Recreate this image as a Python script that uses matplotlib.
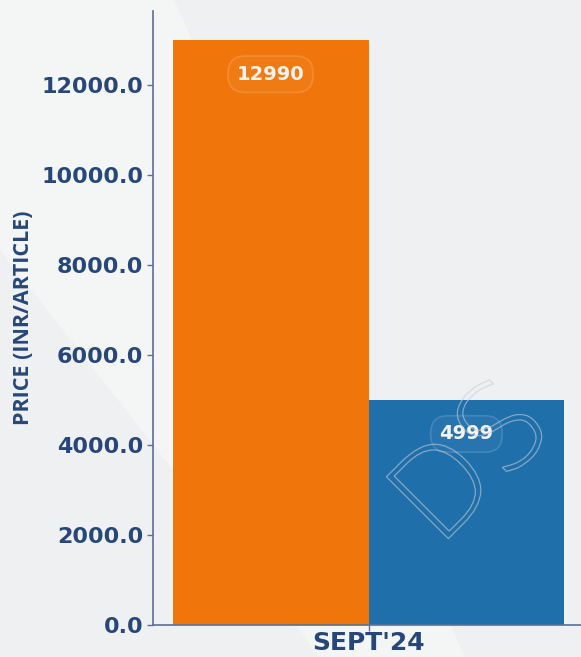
import matplotlib.pyplot as plt
from matplotlib.textpath import TextPath
from matplotlib.patches import PathPatch, Polygon
from matplotlib.font_manager import FontProperties
import matplotlib.transforms as mtransforms

# data
period = ["SEPT'24"]
series_names = ["Brand A", "Brand B"]
prices = [12990, 4999]
bar_colors = ["#f0760c", "#1f6fab"]
yticks = [0, 2000, 4000, 6000, 8000, 10000, 12000]

navy = "#27477a"

fig = plt.figure(figsize=(5.81, 6.57), dpi=100)
fig.patch.set_facecolor("#eff0f1")

# background layer with a lighter diagonal band
bgax = fig.add_axes([0, 0, 1, 1], zorder=-5)
bgax.set_xlim(0, 1)
bgax.set_ylim(0, 1)
bgax.axis("off")
bgax.add_patch(Polygon([(0, 1), (0.0, 0.62), (0.55, 0.0), (0.8, 0.0), (0.3, 1)],
                       closed=True, facecolor="#f4f5f5", edgecolor="none"))

ax = fig.add_axes([153 / 581, 32 / 657, 431 / 581, 614 / 657])
ax.set_facecolor("none")

width = 0.4
offsets = [-width / 2, width / 2]
for off, val, col, name in zip(offsets, prices, bar_colors, series_names):
    ax.bar(off, val, width=width, color=col, label=name, zorder=2)
    ax.annotate(str(val), xy=(off, val), xytext=(0, -34), textcoords="offset pixels",
                ha="center", va="center", color="#f7f4f0", fontsize=14,
                fontweight="bold", zorder=4,
                bbox=dict(boxstyle="round,pad=0.45,rounding_size=0.9",
                          facecolor=(1, 1, 1, 0.04),
                          edgecolor=(1, 1, 1, 0.15), linewidth=1.2))

ax.set_xlim(-0.44, 0.44)
ax.set_ylim(0, max(prices) * 1.05)
ax.set_xticks([0])
ax.set_xticklabels(period, fontsize=18, fontweight="bold", color=navy)
ax.set_yticks(yticks)
ax.set_yticklabels(["%.1f" % t for t in yticks], fontsize=16,
                   fontweight="bold", color=navy)
ax.set_ylabel("PRICE (INR/ARTICLE)", fontsize=15.5, fontweight="bold",
              color=navy, family="Open Sans", labelpad=5)

for s in ["top", "right"]:
    ax.spines[s].set_visible(False)
for s in ["left", "bottom"]:
    ax.spines[s].set_color("#5b6f98")
    ax.spines[s].set_linewidth(1.2)
ax.tick_params(axis="both", colors="#5b6f98", length=4, width=1)
ax.tick_params(axis="x", pad=0)
ax.tick_params(axis="y", pad=3)
for lbl in ax.get_xticklabels() + ax.get_yticklabels():
    lbl.set_color(navy)

# faint outline watermark
tp = TextPath((0, 0), "DS", size=120, prop=FontProperties(family="DejaVu Sans", weight="light"))
tr = (mtransforms.Affine2D().rotate_deg(45).translate(438, 108)
      + mtransforms.IdentityTransform())
wm = PathPatch(tp, facecolor="none", edgecolor="#c8cdd4", linewidth=0.9,
               alpha=0.6, transform=tr, zorder=3)
fig.patches.append(wm)

fig.savefig("out.png", dpi=100, facecolor=fig.get_facecolor())
